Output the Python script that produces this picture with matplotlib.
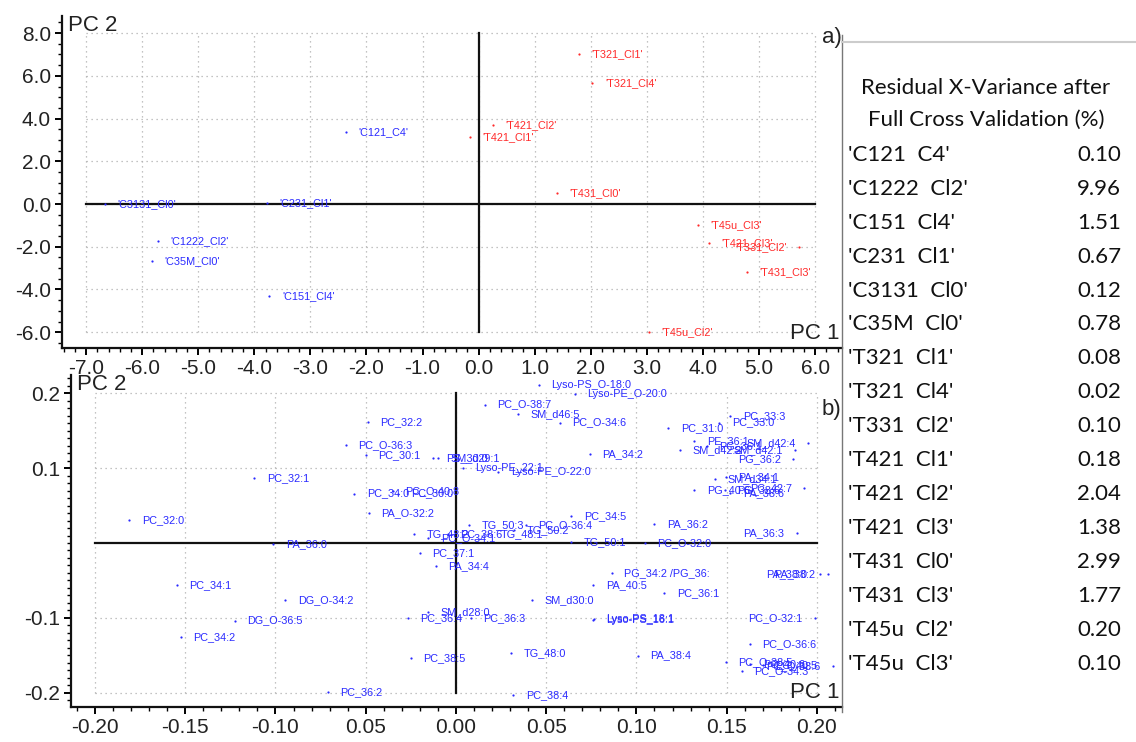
import matplotlib
matplotlib.use("Agg")
import matplotlib.pyplot as plt
from matplotlib.ticker import MultipleLocator
from matplotlib.lines import Line2D

# ---- data: a) sample scores ----
top_names = ["'C121_C4'", "'C3131_Cl0'", "'C231_Cl1'", "'C1222_Cl2'", "'C35M_Cl0'", "'C151_Cl4'",
             "'T321_Cl1'", "'T321_Cl4'", "'T421_Cl2'", "'T421_Cl1'", "'T431_Cl0'", "'T45u_Cl3'",
             "'T421_Cl3'", "'T331_Cl2'", "'T431_Cl3'", "'T45u_Cl2'"]
top_pc1 = [-2.36, -6.66, -3.78, -5.72, -5.83, -3.73,
           1.79, 2.03, 0.25, -0.15, 1.39, 3.91, 4.10, 5.72, 4.79, 3.03]
top_pc2 = [3.38, -0.02, 0.06, -1.72, -2.68, -4.29,
           7.01, 5.68, 3.68, 3.14, 0.53, -0.98, -1.84, -2.00, -3.17, -6.01]

# ---- data: b) lipid loadings ----
bot_names = ["Lyso-PS_O-18:0", "Lyso-PE_O-20:0", "PC_O-38:7", "SM_d46:5", "PC_O-34:6", "PC_32:2",
             "PC_O-36:3", "PC_30:1", "PS_30:0", "SM_d29:1", "Lyso-PE_22:1", "Lyso-PE_O-22:0",
             "PA_34:2", "PC_31:0", "PC_33:3", "PC_33:0", "PE_36:1", "PG_36:1", "SM_d42:4",
             "SM_d42:2", "SM_d42:1", "PG_36:2", "PA_34:1", "SM_d34:1", "PG_40:6", "PG_38:6",
             "PA_38:6", "PC_42:7", "PA_36:3", "PA_36:2", "PC_O-32:0", "PC_34:5", "TG_50:1",
             "PC_O-36:4", "TG_50:3", "TG_50:2", "TG_48:1", "TG_48:2", "PC_38:6", "PC_O-34:1",
             "PC_34:0", "PC_O-40:8", "PC_30:0", "PA_O-32:2", "PC_32:1", "PC_32:0", "PA_36:0",
             "PC_37:1", "PA_34:4", "PC_34:1", "DG_O-34:2", "DG_O-36:5", "PC_34:2", "PC_36:2",
             "PC_36:4", "SM_d28:0", "PC_36:3", "SM_d30:0", "PC_38:5", "TG_48:0", "PC_38:4",
             "PG_34:2 /PG_36:", "PA_40:5", "PC_36:1", "Lyso-PS_16:1", "Lyso-PS_18:1", "PA_38:4",
             "PC_O-32:1", "PC_O-36:6", "PC_O-38:5", "PC_O-34:3", "PC_40:6", "PC_O-38:6",
             "PC_40:5", "PA_38:2", "PA_38:0"]
bot_pc1 = [0.046, 0.066, 0.016, 0.0345, 0.0576, -0.049,
           -0.061, -0.050, -0.0125, -0.010, 0.0037, 0.0234,
           0.0742, 0.1176, 0.152, 0.146, 0.132, 0.139, 0.195,
           0.124, 0.188, 0.187, 0.1496, 0.1435, 0.132, 0.149,
           0.152, 0.193, 0.1888, 0.110, 0.1047, 0.064, 0.064,
           0.0388, 0.0074, 0.032, 0.0177, -0.0231, -0.0045, -0.0154,
           -0.0563, -0.035, -0.032, -0.0482, -0.1117, -0.181, -0.1012,
           -0.020, -0.011, -0.1547, -0.0946, -0.1224, -0.1525, -0.0711,
           -0.0268, -0.0155, 0.0081, 0.0419, -0.0251, 0.0305, 0.0318,
           0.0862, 0.0761, 0.1154, 0.0761, 0.0763, 0.1007,
           0.199, 0.1629, 0.1496, 0.1583, 0.163, 0.209,
           0.170, 0.206, 0.2017]
bot_pc2 = [0.211, 0.199, 0.185, 0.172, 0.161, 0.162,
           0.131, 0.117, 0.114, 0.114, 0.100, 0.0953,
           0.119, 0.154, 0.170, 0.161, 0.136, 0.130, 0.134,
           0.124, 0.124, 0.112, 0.0887, 0.085, 0.071, 0.071,
           0.067, 0.073, 0.013, 0.025, -0.0004, 0.0365, 0.0017,
           0.024, 0.024, 0.0174, 0.012, 0.0116, 0.0125, 0.0063,
           0.066, 0.0695, 0.066, 0.0405, 0.0865, 0.0303, -0.001,
           -0.0138, -0.0307, -0.0557, -0.0762, -0.1038, -0.1257, -0.1996,
           -0.1007, -0.092, -0.1007, -0.0762, -0.154, -0.1466, -0.2036,
           -0.0405, -0.0561, -0.0673, -0.103, -0.1015, -0.1506,
           -0.1007, -0.1354, -0.1587, -0.1707, -0.162, -0.164,
           -0.163, -0.042, -0.042]

# ---- data: table ----
table_head = ["Residual X-Variance after", "Full Cross Validation (%)"]
table_rows = ["'C121  C4'", "'C1222  Cl2'", "'C151  Cl4'", "'C231  Cl1'", "'C3131  Cl0'",
              "'C35M  Cl0'", "'T321  Cl1'", "'T321  Cl4'", "'T331  Cl2'", "'T421  Cl1'",
              "'T421  Cl2'", "'T421  Cl3'", "'T431  Cl0'", "'T431  Cl3'", "'T45u  Cl2'",
              "'T45u  Cl3'"]
table_vals = [0.10, 9.96, 1.51, 0.67, 0.12, 0.78, 0.08, 0.02, 0.10, 0.18,
              2.04, 1.38, 2.99, 1.77, 0.20, 0.10]

top_xt = [-7, -6, -5, -4, -3, -2, -1, 0, 1, 2, 3, 4, 5, 6]
top_yt = [-6, -4, -2, 0, 2, 4, 6, 8]
bot_xt = [-0.20, -0.15, -0.10, -0.05, 0.0, 0.05, 0.10, 0.15, 0.20]
bot_xlab = ["-0.20", "-0.15", "-0.10", "0.05", "0.00", "0.05", "0.10", "0.15", "0.20"]
bot_yt = [-0.2, -0.1, 0.1, 0.2]
bot_ylab = ["-0.2", "-0.1", "0.1", "0.2"]

BLUE = "#2a2aff"
RED = "#ff2a2a"
AXFONT = "Liberation Sans"
W, H = 1136, 742

fig = plt.figure(figsize=(W / 100, H / 100), dpi=100)


def style_axes(ax, xt, xlab, yt, ylab, xminor, yminor):
    for s in ["top", "right"]:
        ax.spines[s].set_visible(False)
    for s in ["left", "bottom"]:
        ax.spines[s].set_linewidth(1.6)
        ax.spines[s].set_color("#111111")
    ax.set_xticks(xt)
    ax.set_xticklabels(xlab, fontsize=15, family=AXFONT, color="#222222")
    ax.set_yticks(yt)
    ax.set_yticklabels(ylab, fontsize=15, family=AXFONT, color="#222222")
    ax.xaxis.set_minor_locator(MultipleLocator(xminor))
    ax.yaxis.set_minor_locator(MultipleLocator(yminor))
    ax.tick_params(axis="both", which="major", direction="out", length=5, width=1.4, pad=3)
    ax.tick_params(axis="both", which="minor", direction="out", length=3, width=1.0)
    ax.patch.set_alpha(0)
    # dotted grid and origin lines over the data range only
    gx = [t for t in xt]
    gy = [t for t in yt]
    for x in gx:
        ax.plot([x, x], [min(gy), max(gy)], ls=(0, (1, 3)), color="#b0b0b0", lw=0.9, zorder=1)
    for y in gy:
        ax.plot([min(gx), max(gx)], [y, y], ls=(0, (1, 3)), color="#b0b0b0", lw=0.9, zorder=1)
    ax.plot([0, 0], [min(gy), max(gy)], color="#111111", lw=1.6, zorder=2)
    ax.plot([min(gx), max(gx)], [0, 0], color="#111111", lw=1.6, zorder=2)
    ax.annotate("PC 2", xy=(0, 1), xycoords="axes fraction", xytext=(4, 1),
                textcoords="offset points", ha="left", va="top", fontsize=16,
                family=AXFONT, color="#222222")
    ax.annotate("PC 1", xy=(1, 0), xycoords="axes fraction", xytext=(-2, 3),
                textcoords="offset points", ha="right", va="bottom", fontsize=16,
                family=AXFONT, color="#222222")


def scatter_labels(ax, xs, ys, names, colors, left_from):
    for x, y, n, c in zip(xs, ys, names, colors):
        ax.plot(x, y, "o", ms=1.6, color=c, mec="none", zorder=3)
        if x > left_from:
            ax.annotate(n, (x, y), xytext=(-9, 0), textcoords="offset points", ha="right",
                        va="center", fontsize=7.8, family=AXFONT, color=c, zorder=4)
        else:
            ax.annotate(n, (x, y), xytext=(9, 0), textcoords="offset points", ha="left",
                        va="center", fontsize=7.8, family=AXFONT, color=c, zorder=4)


# a) scores
ax1 = fig.add_axes([62 / W, 1 - 348 / H, (842 - 62) / W, (348 - 16) / H])
ax1.set_xlim(-7.43, 6.48)
ax1.set_ylim(-6.74, 8.80)
style_axes(ax1, top_xt, ["%.1f" % v for v in top_xt], top_yt, ["%.1f" % v for v in top_yt], 0.2, 0.5)
top_colors = [BLUE if n.startswith("'C") else RED for n in top_names]
scatter_labels(ax1, top_pc1, top_pc2, top_names, top_colors, 5.5)

# b) loadings
ax2 = fig.add_axes([71 / W, 1 - 707 / H, (842 - 71) / W, (707 - 375) / H])
ax2.set_xlim(-0.2133, 0.2139)
ax2.set_ylim(-0.2193, 0.2246)
style_axes(ax2, bot_xt, bot_xlab, bot_yt, bot_ylab, 0.01, 0.01)
scatter_labels(ax2, bot_pc1, bot_pc2, bot_names, [BLUE] * len(bot_names), 0.18)

fig.text(822 / W, 1 - 38 / H, "a)", fontsize=16, family=AXFONT, color="#222222", va="center")
fig.text(822 / W, 1 - 410 / H, "b)", fontsize=16, family=AXFONT, color="#222222", va="center")

# table panel
fig.add_artist(Line2D([842 / W, 842 / W], [1 - 35 / H, 1 - 712 / H], color="#777777", lw=1.0))
fig.add_artist(Line2D([842 / W, 1.0], [1 - 41.5 / H, 1 - 41.5 / H], color="#cccccc", lw=1.5))
TFONT = "Lato"
for i, h in enumerate(table_head):
    fig.text(986 / W, 1 - (88 + 32 * i) / H, h, fontsize=16, family=TFONT, color="#111111",
             ha="center", va="center")
for i, (r, v) in enumerate(zip(table_rows, table_vals)):
    y = 1 - (155 + 33.9 * i) / H
    fig.text(848 / W, y, r, fontsize=16, family=TFONT, color="#111111", ha="left", va="center")
    fig.text(1121 / W, y, "%.2f" % v, fontsize=16, family=TFONT, color="#111111",
             ha="right", va="center")

fig.savefig("out.png", dpi=100)
